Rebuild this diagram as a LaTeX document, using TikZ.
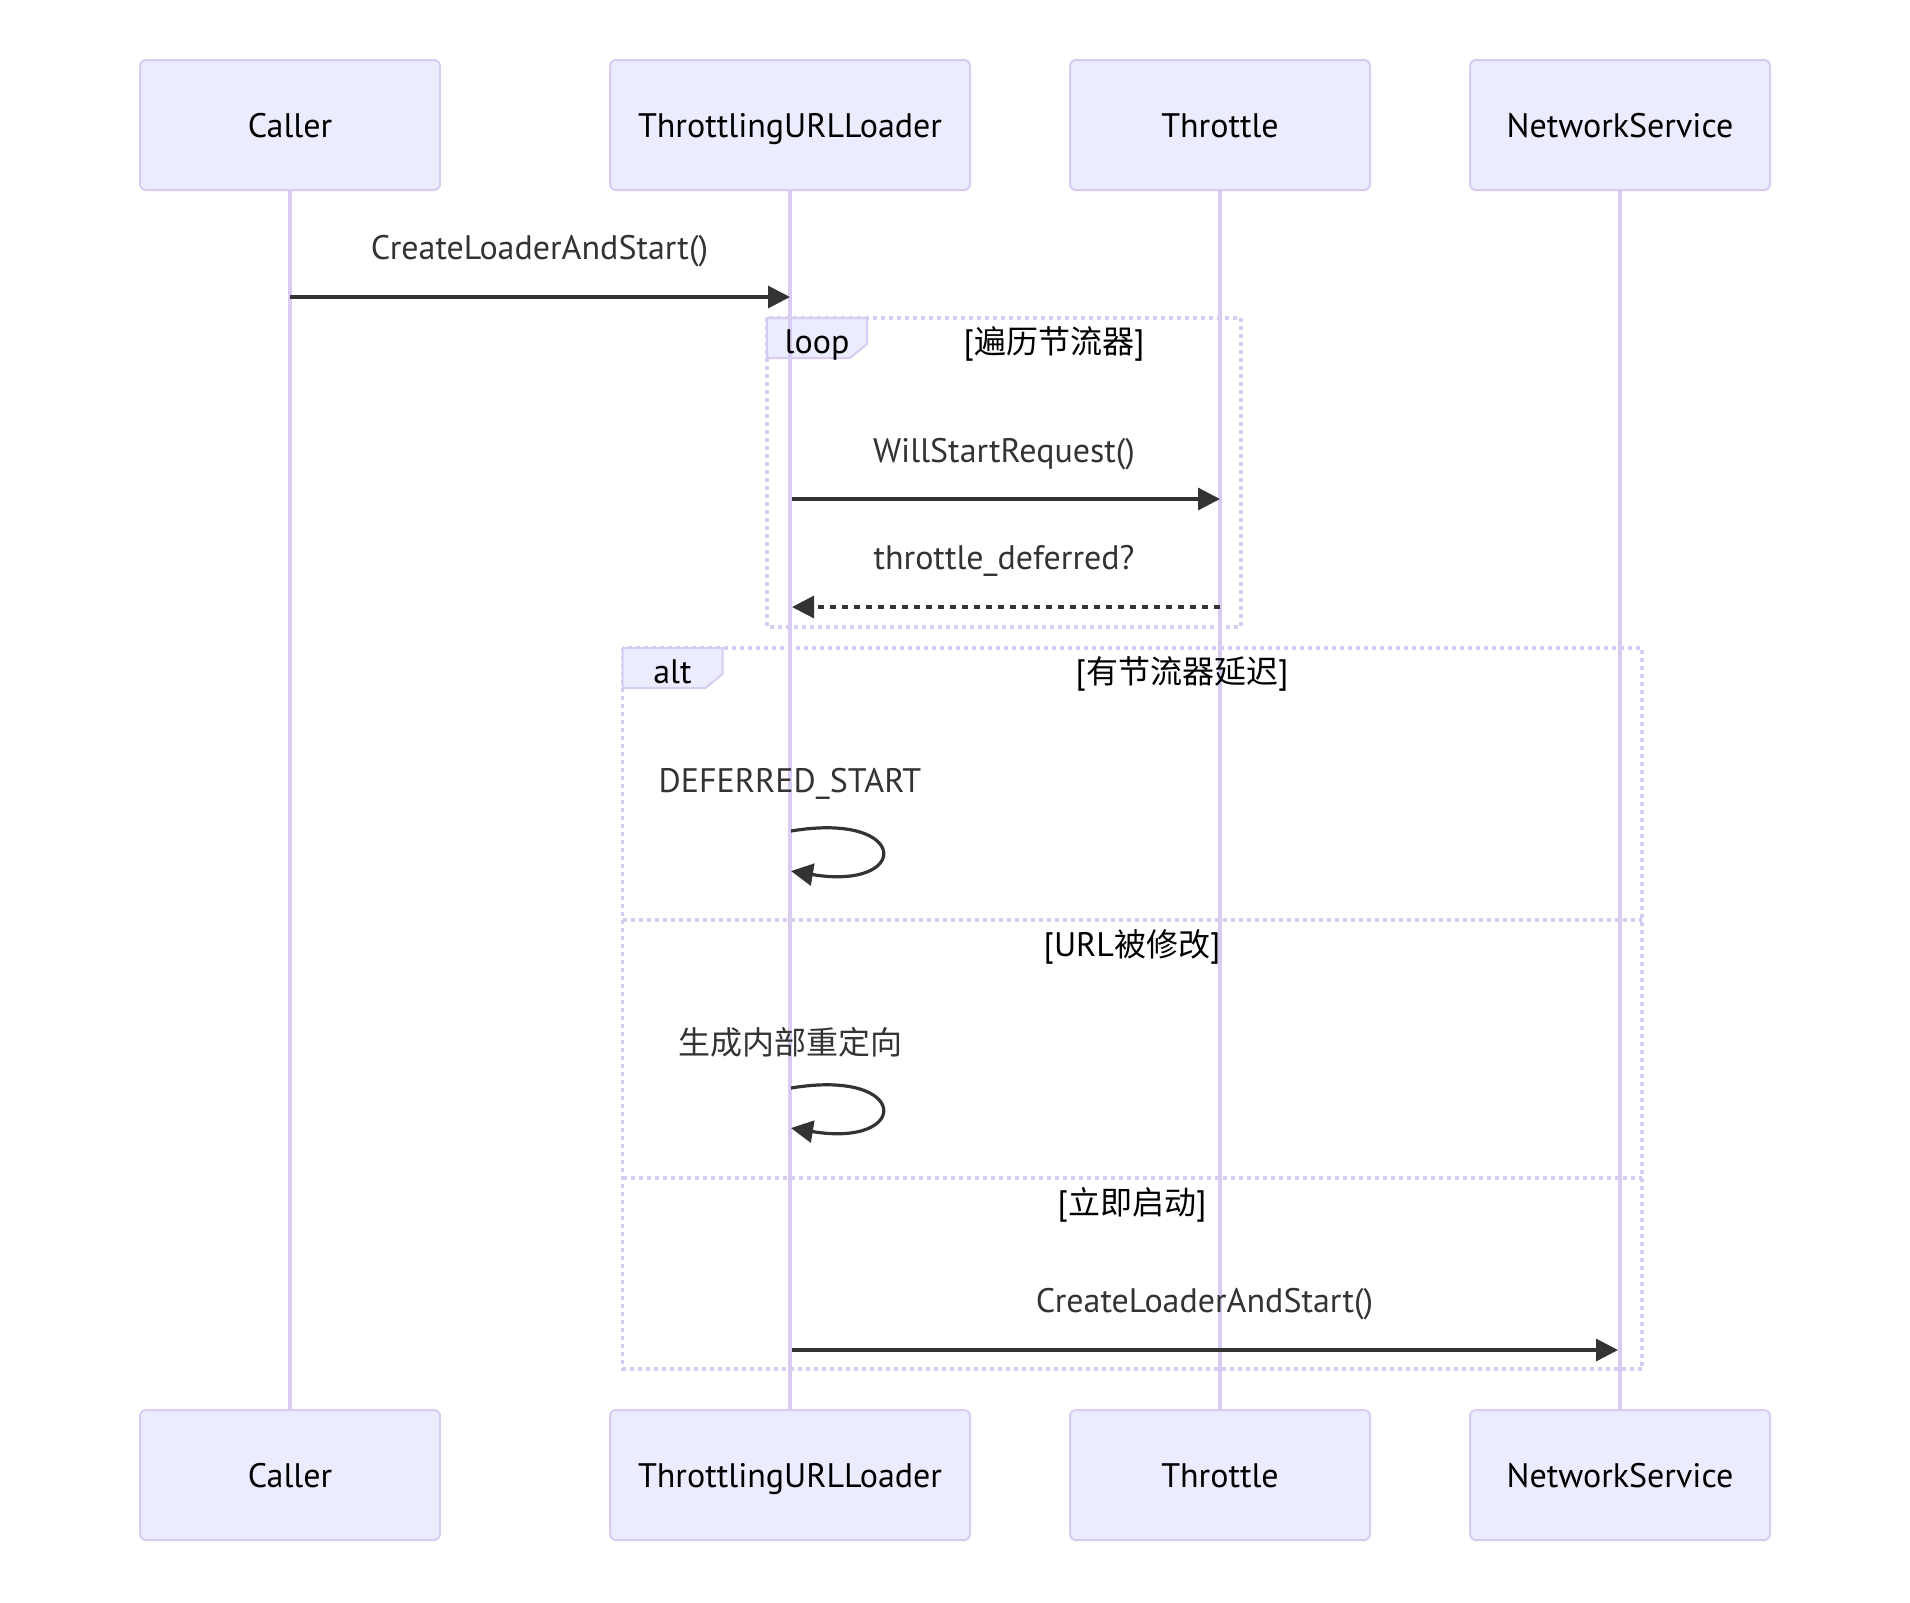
\documentclass[tikz,border=0pt]{standalone}
\usepackage{fontspec}
\setmainfont{PT Sans}
\newfontfamily\cjk{Noto Sans CJK SC}
\newcommand\zh[1]{{\cjk\fontsize{16}{19}\selectfont #1}}
\usetikzlibrary{arrows.meta}
\definecolor{actfill}{HTML}{ECECFF}
\definecolor{actline}{HTML}{D8CCF2}
\definecolor{msgc}{HTML}{333333}
\tikzset{
  actor/.style={draw=actline, line width=1pt, fill=actfill, rounded corners=3pt,
    minimum height=65pt, text=black, inner sep=0pt, text height=12pt, text depth=0pt},
  lifeline/.style={draw=actline, line width=1.8pt},
  msg/.style={draw=msgc, line width=1.6pt, -{Triangle[length=11pt,width=11pt]}},
  reply/.style={msg, dash pattern=on 3pt off 3pt},
  frameline/.style={draw=actline, line width=1.6pt, dash pattern=on 2pt off 2pt},
  tabbox/.style={draw=actline, line width=1pt, fill=actfill},
  mlabel/.style={text=msgc, anchor=base, inner sep=0pt},
  flabel/.style={text=black, anchor=base, inner sep=0pt},
  tablabel/.style={text=black, anchor=center, inner sep=0pt, text height=12pt, text depth=0pt}
}
\begin{document}
\begin{tikzpicture}[x=0.5pt, y=-0.5pt, font=\fontsize{17}{20}\selectfont]
\useasboundingbox (0,0) rectangle (1910,1602);

% actors
\node[actor, minimum width=150pt] (caller) at (290,125) {Caller};
\node[actor, minimum width=180pt] (tul) at (790,125) {ThrottlingURLLoader};
\node[actor, minimum width=150pt] (thr) at (1220,125) {Throttle};
\node[actor, minimum width=150pt] (ns) at (1620,125) {NetworkService};
\node[actor, minimum width=150pt] (callerb) at (290,1475) {Caller};
\node[actor, minimum width=180pt] (tulb) at (790,1475) {ThrottlingURLLoader};
\node[actor, minimum width=150pt] (thrb) at (1220,1475) {Throttle};
\node[actor, minimum width=150pt] (nsb) at (1620,1475) {NetworkService};

% frames
\draw[frameline] (767,318) rectangle (1241,627);
\draw[tabbox] (767,318) -- (867,318) -- (867,344) -- (850,358) -- (767,358) -- cycle;
\draw[frameline] (622.5,648) rectangle (1642,1369);
\draw[frameline] (622.5,920) -- (1642,920);
\draw[frameline] (622.5,1178) -- (1642,1178);
\draw[tabbox] (622.5,648) -- (722.5,648) -- (722.5,674) -- (705.5,688) -- (622.5,688) -- cycle;

% lifelines
\draw[lifeline] (caller.south) -- (callerb.north);
\draw[lifeline] (tul.south) -- (tulb.north);
\draw[lifeline] (thr.south) -- (thrb.north);
\draw[lifeline] (ns.south) -- (nsb.north);

% frame labels
\node[tablabel] (looplbl) at (817,341) {loop};
\node[tablabel] (altlbl) at (672.5,671) {alt};
\node[flabel] (loopcond) at (1054,353) {[\zh{遍历节流器}]};
\node[flabel] (altc1) at (1182,683) {[\zh{有节流器延迟}]};
\node[flabel] (altc2) at (1132,956) {[URL\zh{被修改}]};
\node[flabel] (altc3) at (1132,1214) {[\zh{立即启动}]};

% message labels
\node[mlabel] (l1) at (539.5,259.5) {CreateLoaderAndStart()};
\node[mlabel] (l2) at (1004,462) {WillStartRequest()};
\node[mlabel] (l3) at (1004,569) {throttle\_deferred?};
\node[mlabel] (l4) at (790,792) {DEFERRED\_START};
\node[mlabel] (l5) at (790,1054) {\zh{生成内部重定向}};
\node[mlabel] (l6) at (1204.5,1312) {CreateLoaderAndStart()};

% message anchors
\coordinate (m1s) at (caller.center |- 0,297);
\coordinate (m1e) at (tul.center |- 0,297);
\coordinate (m2s) at (792,499);
\coordinate (m2e) at (thr.center |- 0,499);
\coordinate (m3s) at (thr.center |- 0,607);
\coordinate (m3e) at (792,607);
\coordinate (s1a) at (791,831);
\coordinate (s1b) at (791,871);
\coordinate (s2a) at (791,1088);
\coordinate (s2b) at (791,1128);
\coordinate (m6s) at (792,1350);
\coordinate (m6e) at (1618,1350);

% messages
\draw[msg] (m1s) -- (m1e);
\draw[msg] (m2s) -- (m2e);
\draw[reply] (m3s) -- (m3e);
\draw[msg] (s1a) .. controls (911,811) and (911,891) .. (s1b);
\draw[msg] (s2a) .. controls (911,1068) and (911,1148) .. (s2b);
\draw[msg] (m6s) -- (m6e);
\end{tikzpicture}
\end{document}
